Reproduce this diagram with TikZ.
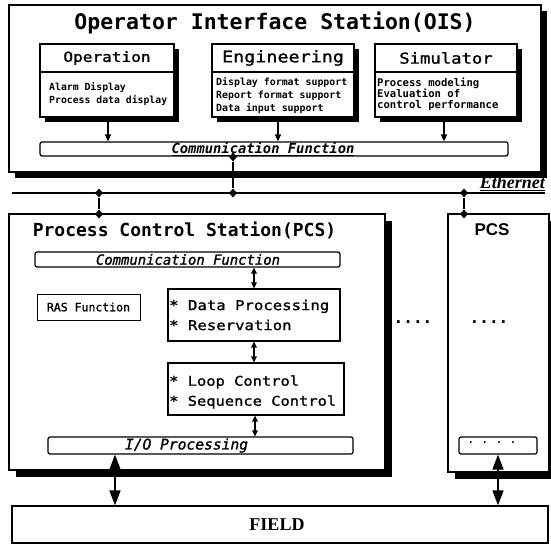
\documentclass[tikz,border=0pt]{standalone}
\usepackage{fontspec}
\setmainfont{DejaVu Sans Mono}
\newfontfamily\monof{DejaVu Sans Mono}
\newfontfamily\monoh[FakeBold=1.2]{DejaVu Sans Mono}
\newfontfamily\hdrf[FakeStretch=1.15,FakeBold=1.3]{DejaVu Sans Mono}
\newfontfamily\lsans{Liberation Sans}
\newfontfamily\lserif{Liberation Serif}
\usetikzlibrary{arrows.meta,shapes.geometric,shadows}
\newcommand\setfs[1]{\fontsize{#1}{#1}\selectfont}
\begin{document}
\begin{tikzpicture}[x=1pt,y=-1pt,
  box/.style={draw, line width=1.2pt, fill=white, rectangle, inner sep=0pt},
  shd/.style={drop shadow={shadow xshift=#1, shadow yshift=-#1, fill=black, opacity=1}},
  bar/.style={box, rounded corners=2pt},
  lbl/.style={inner sep=0pt, text=black},
  dmd/.style={diamond, fill=black, inner sep=0pt, minimum width=8pt, minimum height=9pt},
  arr/.style={line width=1.3pt, -{Triangle[length=7pt,width=6pt]}},
  darr/.style={line width=1.3pt, {Triangle[length=6pt,width=5.5pt]}-{Triangle[length=6pt,width=5.5pt]}},
  bigarr/.style={line width=1.5pt, {Triangle[length=15pt,width=11pt]}-{Triangle[length=15pt,width=11pt]}},
  conn/.style={line width=1.3pt}
]
\useasboundingbox (0,0) rectangle (551,545);
\fill[white] (0,0) rectangle (551,545);

% ---------------- OIS ----------------
\node[box, shd=6pt, minimum width=532pt, minimum height=167pt] (ois) at (275,88.5) {};
\node[lbl, font=\monof\bfseries\setfs{21.5}] (oistitle) at (275,23) {Operator Interface Station(OIS)};

\coordinate (hy) at (0,72);
\node[box, shd=5pt, minimum width=134pt, minimum height=73pt] (op) at (107,80.5) {};
\node[box, shd=5pt, minimum width=142pt, minimum height=73pt] (eng) at (283,80.5) {};
\node[box, shd=5pt, minimum width=142pt, minimum height=73pt] (sim) at (446,80.5) {};
\draw[line width=1.2pt] (op.west |- hy) -- (op.east |- hy);
\draw[line width=1.2pt] (eng.west |- hy) -- (eng.east |- hy);
\draw[line width=1.2pt] (sim.west |- hy) -- (sim.east |- hy);

\node[lbl, font=\hdrf\setfs{14}] (opt) at (107,58) {Operation};
\node[lbl, font=\hdrf\setfs{16}] (engt) at (283,58) {Engineering};
\node[lbl, font=\hdrf\setfs{15}] (simt) at (446,58) {Simulator};

\node[lbl, anchor=west, align=left, font=\monof\bfseries\fontsize{9.8}{13}\selectfont] (opb) at (49,94) {Alarm Display\\Process data display};
\node[lbl, anchor=west, align=left, font=\monof\bfseries\fontsize{9.9}{13}\selectfont] (engb) at (216,96) {Display format support\\Report format support\\Data input support};
\node[lbl, anchor=west, align=left, font=\monof\bfseries\fontsize{10.6}{11}\selectfont] (simb) at (377,94) {Process modeling\\Evaluation of\\control performance};

\node[bar, minimum width=468pt, minimum height=14pt] (cbo) at (274,149) {};
\node[lbl, font=\monof\bfseries\itshape\setfs{13.8}] (cbot) at (263,149) {\underline{Communication Function}};

\draw[arr] ([xshift=1pt]op.south) -- ([xshift=1pt]op.south |- cbo.north);
\draw[arr] ([xshift=-5pt]eng.south) -- ([xshift=-5pt]eng.south |- cbo.north);
\draw[arr] ([xshift=-2pt]sim.south) -- ([xshift=-2pt]sim.south |- cbo.north);

% ---------------- Ethernet ----------------
\coordinate (eL) at (12,193);
\coordinate (eR) at (545,193);
\draw[line width=2pt] (eL) -- (eR);
\node[lbl, anchor=south east, font=\lserif\bfseries\itshape\setfs{18}] (eth) at (545,191) {\underline{Ethernet}};

\node[dmd] (dO) at (233,157) {};
\node[dmd] (d1) at (99,193) {};
\node[dmd] (d2) at (233,193) {};
\node[dmd] (d3) at (464,193) {};
\draw[conn] (dO) -- (d2);

% ---------------- PCS ----------------
\node[box, shd=7pt, minimum width=376pt, minimum height=256pt] (pcs) at (197,342) {};
\node[box, shd=7pt, minimum width=101pt, minimum height=258pt] (pcs2) at (498.5,343) {};
\node[dmd] (dp1) at (99,214) {};
\node[dmd] (dp2) at (464,214) {};
\draw[conn] (d1) -- (dp1);
\draw[conn] (d3) -- (dp2);

\node[lbl, font=\monof\bfseries\setfs{18}] (pcst) at (184.5,230) {Process Control Station(PCS)};
\node[lbl, font=\lsans\bfseries\setfs{17}] (pcs2t) at (492,230) {PCS};

\node[bar, minimum width=305pt, minimum height=15pt] (cbp) at (187.5,259.5) {};
\node[lbl, font=\monoh\itshape\setfs{13.9}] (cbpt) at (188,259.5) {Communication Function};

\node[box, line width=1pt, minimum width=103pt, minimum height=26pt] (ras) at (88.5,307) {};
\node[lbl, font=\monoh\setfs{11.5}] (rast) at (88.5,307) {RAS Function};

\node[box, line width=1.1pt, minimum width=172pt, minimum height=52pt] (dp) at (254,315) {};
\node[lbl, anchor=west, align=left, font=\hdrf\fontsize{13.6}{20}\selectfont] (dpt) at (169,315) {* Data Processing\\* Reservation};

\node[box, line width=1.1pt, minimum width=176pt, minimum height=52pt] (loop) at (256,389) {};
\node[lbl, anchor=west, align=left, font=\hdrf\fontsize{13.4}{20}\selectfont] (loopt) at (169,392) {* Loop Control\\* Sequence Control};

\node[bar, minimum width=305pt, minimum height=17pt] (io) at (200.5,445.5) {};
\node[lbl, font=\monoh\itshape\setfs{14.6}] (iot) at (186.5,445.5) {I/O Processing};

\draw[darr] (dp.north) -- (dp.north |- cbp.south);
\draw[darr] (dp.south) -- (dp.south |- loop.north);
\draw[darr] ([xshift=-1pt]loop.south) -- ([xshift=-1pt]loop.south |- io.north);

\node[lbl, font=\monof\bfseries\setfs{16}] (dots1) at (413,322) {....};
\node[lbl, font=\monof\bfseries\setfs{16}] (dots2) at (489,322) {....};

\node[bar, minimum width=78pt, minimum height=17pt] (sbox) at (498,445.5) {};
\node[lbl, font=\monof\bfseries\setfs{10}] (sboxt) at (492,443) {. . . .};

% ---------------- FIELD ----------------
\node[box, line width=1.2pt, minimum width=536pt, minimum height=37pt] (field) at (280,524.5) {};
\node[lbl, font=\lserif\bfseries\setfs{18}] (fieldt) at (277,524.5) {FIELD};

\draw[bigarr] ([xshift=-85.5pt]io.south) -- ([xshift=-85.5pt]io.south |- field.north);
\draw[bigarr] (sbox.south) -- (sbox.south |- field.north);
\end{tikzpicture}
\end{document}
